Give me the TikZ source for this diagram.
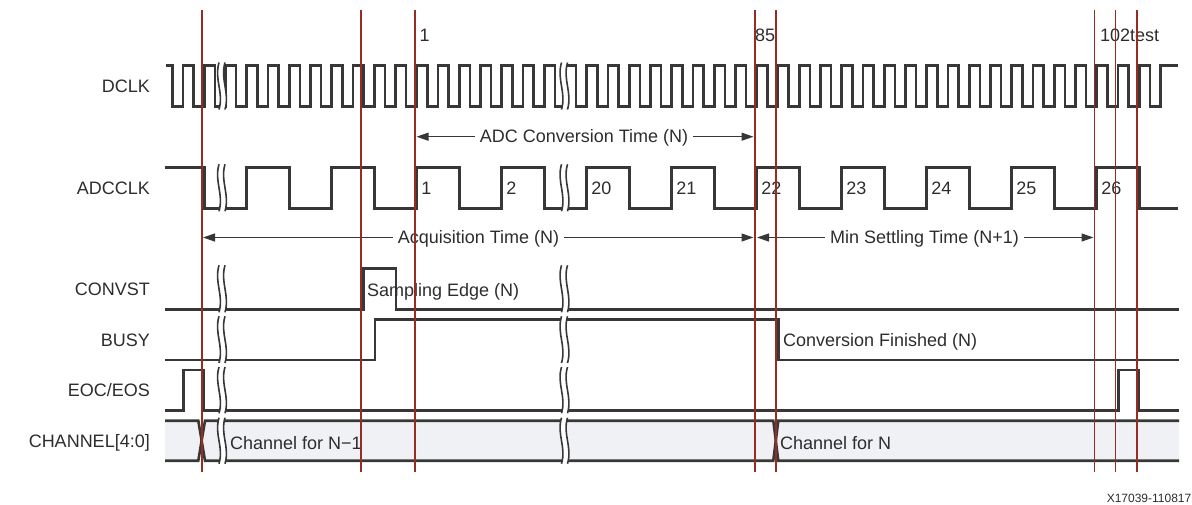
\documentclass[tikz,border=0pt]{standalone}
\usepackage{fontspec}
\setmainfont{Liberation Sans}
\usetikzlibrary{arrows.meta}
\definecolor{sigc}{RGB}{55,55,55}
\definecolor{redl}{RGB}{150,45,35}
\definecolor{busfill}{RGB}{239,241,244}
\definecolor{txt}{RGB}{45,45,45}
\newcommand\wavebreak[3]{%
  \fill[white] ({#1-3},{#2-3}) .. controls ({#1-8},{#2+(#3-#2)*0.35}) and ({#1+2},{#2+(#3-#2)*0.65}) .. ({#1-3},{#3+3})
     -- ({#1+3},{#3+3}) .. controls ({#1+8},{#2+(#3-#2)*0.65}) and ({#1-2},{#2+(#3-#2)*0.35}) .. ({#1+3},{#2-3}) -- cycle;
  \draw[brk] ({#1-3},{#2-3}) .. controls ({#1-8},{#2+(#3-#2)*0.35}) and ({#1+2},{#2+(#3-#2)*0.65}) .. ({#1-3},{#3+3});
  \draw[brk] ({#1+3},{#2-3}) .. controls ({#1-2},{#2+(#3-#2)*0.35}) and ({#1+8},{#2+(#3-#2)*0.65}) .. ({#1+3},{#3+3});
}
\begin{document}
\begin{tikzpicture}[x=1pt,y=-1pt,
  sig/.style={draw=sigc,line width=2.6pt,line join=miter},
  marker/.style={draw=redl,line width=1.6pt},
  lbl/.style={text=txt,font=\fontsize{18}{21}\selectfont,inner sep=0pt},
  small/.style={text=txt,font=\fontsize{12}{14}\selectfont,inner sep=0pt},
  dimtxt/.style={lbl,inner xsep=5pt},
  dim/.style={draw=sigc,line width=1.2pt,-{Triangle[length=12pt,width=8pt]}},
  brk/.style={draw=sigc,line width=1.6pt},
]
\useasboundingbox (0,0) rectangle (1192,504);

% ---- signal names
\node[lbl,anchor=base east] (nDCLK) at (150,92) {DCLK};
\node[lbl,anchor=base east] (nADC) at (150,194) {ADCCLK};
\node[lbl,anchor=base east] (nCONV) at (150,295) {CONVST};
\node[lbl,anchor=base east] (nBUSY) at (150,346) {BUSY};
\node[lbl,anchor=base east] (nEOC) at (150,396) {EOC/EOS};
\node[lbl,anchor=base east] (nCH) at (150,447) {CHANNEL[4:0]};

% ---- CHANNEL bus
\fill[busfill] (165,420.7) -- (198.3,420.7) -- (201.7,440.7) -- (205,420.7) -- (773.3,420.7) -- (775.8,440.7) -- (778.3,420.7) -- (1179,420.7)
  -- (1179,460.7) -- (778.3,460.7) -- (775.8,440.7) -- (773.3,460.7) -- (205,460.7) -- (201.7,440.7) -- (198.3,460.7) -- (165,460.7) -- cycle;
\draw[sig] (165,420.7) -- (198.3,420.7) -- (205,460.7) -- (773.3,460.7) -- (778.3,420.7) -- (1179,420.7);
\draw[sig] (165,460.7) -- (198.3,460.7) -- (205,420.7) -- (773.3,420.7) -- (778.3,460.7) -- (1179,460.7);

% ---- DCLK
\draw[sig] (165.7,65.5) -- (172.3,65.5) -- (172.3,106.5)
  \foreach \k in {-11,...,34} { -- ({416.7+21.25*\k},106.5) -- ({416.7+21.25*\k},65.5) -- ({427.3+21.25*\k},65.5) -- ({427.3+21.25*\k},106.5) }
  -- (1160.5,106.5) -- (1160.5,65.5) -- (1178,65.5);

% ---- ADCCLK
\draw[sig] (165,167.3) -- (204.7,167.3) -- (204.7,208.3)
  \foreach \j in {-2,...,8} { -- ({416.7+85*\j},208.3) -- ({416.7+85*\j},167.3) -- ({459.7+85*\j},167.3) -- ({459.7+85*\j},208.3) }
  -- (1178.3,208.3);

% ---- CONVST, BUSY, EOC
\draw[sig] (165,309.3) -- (363.3,309.3) -- (363.3,268.3) -- (396,268.3) -- (396,309.3) -- (1179,309.3);
\draw[sig] (165,360) -- (375,360) -- (375,319.3) -- (778.3,319.3) -- (778.3,360) -- (1179,360);
\draw[sig] (165,410.3) -- (183.3,410.3) -- (183.3,370) -- (204,370) -- (204,410.3) -- (1118.3,410.3) -- (1118.3,370) -- (1139,370) -- (1139,410.3) -- (1179,410.3);

% ---- breaks
\foreach \bx in {222,564.5} {
  \wavebreak{\bx}{65.5}{106.5}
  \wavebreak{\bx}{167.3}{208.3}
  \wavebreak{\bx}{268.3}{309.3}
  \wavebreak{\bx}{319.3}{360}
  \wavebreak{\bx}{370}{410.3}
  \wavebreak{\bx}{420.7}{460.7}
}

% ---- ADCCLK cycle numbers
\foreach \j/\t in {0/1,1/2,2/20,3/21,4/22,5/23,6/24,7/25,8/26}
  \node[lbl,anchor=base west] (c\t) at ({421.2+85*\j},194.3) {\t};

% ---- DCLK tick labels
\node[lbl,anchor=base west] (t1) at (419.5,41.5) {1};
\node[lbl,anchor=base west] (t85) at (755,41.5) {85};
\node[lbl,anchor=base west] (t102) at (1100,41.5) {102test};

% ---- timing arrows
\coordinate (adcL) at (416.5,136.7);
\coordinate (adcR) at (753.5,136.7);
\coordinate (acqL) at (203,237.5);
\coordinate (acqR) at (753.5,237.5);
\coordinate (setL) at (757,237.5);
\coordinate (setR) at (1093.5,237.5);
\node[dimtxt,anchor=base] (adct) at (584,142.9) {ADC Conversion Time (N)};
\node[dimtxt,anchor=base] (acqt) at (478.5,243.7) {Acquisition Time (N)};
\node[dimtxt,anchor=base] (sett) at (924.5,243.7) {Min Settling Time (N+1)};
\draw[dim] (adct.west |- adcL) -- (adcL);
\draw[dim] (adct.east |- adcR) -- (adcR);
\draw[dim] (acqt.west |- acqL) -- (acqL);
\draw[dim] (acqt.east |- acqR) -- (acqR);
\draw[dim] (sett.west |- setL) -- (setL);
\draw[dim] (sett.east |- setR) -- (setR);

% ---- annotations
\node[lbl,anchor=base west] (samp) at (367,296) {Sampling Edge (N)};
\node[lbl,anchor=base west] (conv) at (783,346.7) {Conversion Finished (N)};
\node[lbl,anchor=base west] (chn1) at (230,449) {Channel for N{\textminus}1};
\node[lbl,anchor=base west] (chn) at (780,449) {Channel for N};
\node[small,anchor=base east] (fig) at (1191.5,502.3) {X17039-110817};

% ---- red marker lines
\foreach \mx in {202,361,415,755,776,1094.3,1115.5,1136.7}
  \draw[marker] (\mx,10) -- (\mx,472);
\end{tikzpicture}
\end{document}
